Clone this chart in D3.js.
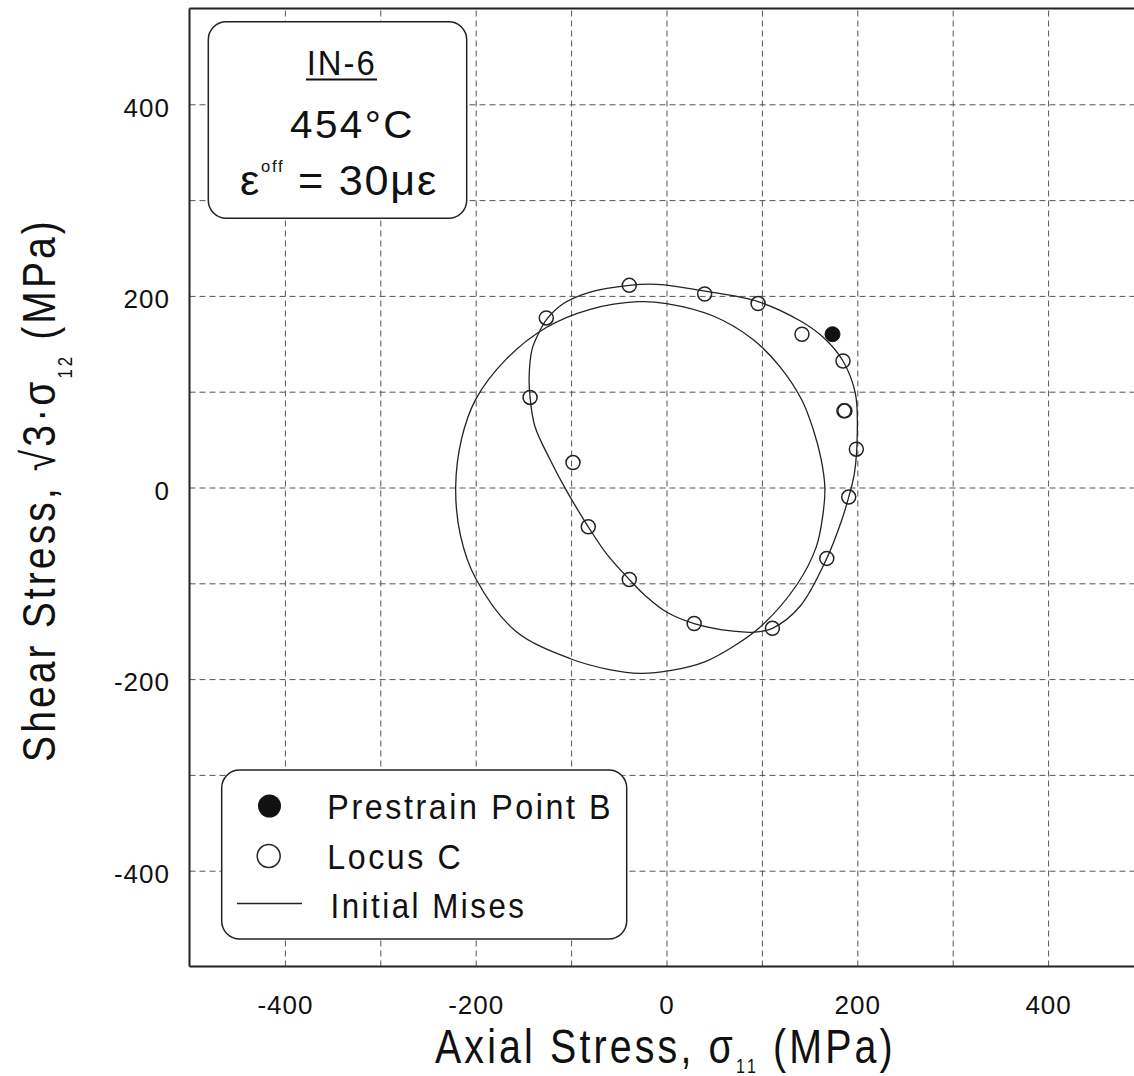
<!DOCTYPE html>
<html>
<head>
<meta charset="utf-8">
<script src="https://cdn.jsdelivr.net/npm/d3@7"></script>
<style>
  html, body { margin: 0; padding: 0; background: #fff; }
  svg { display: block; }
  text { font-family: "Liberation Sans", Arial, Helvetica, sans-serif; fill: #111; }
</style>
</head>
<body>
<svg id="chart" width="1134" height="1076"></svg>
<script>
// Locus C: measured yield points (axial stress, equivalent shear stress), MPa
const locusX = [-39, 40, 96, 142, 185, 186, 187, 199, 191, 168, 111, 29, -39, -82, -98, -143, -126];
const locusY = [211, 202, 192, 160, 132, 80, 80, 40, -10, -74, -147, -142, -96, -41, 26, 94, 177];

// Prestrain point B
const prestrainX = [174];
const prestrainY = [160];

// Fitted yield locus through the probe points (closed curve)
const fitX = [-39, -10, 40, 96, 140, 164, 185, 198, 200, 197, 191, 183, 168, 140, 111, 92, 70, 29, 0, -21, -39, -63, -82, -105, -122, -138, -143, -144, -141, -134, -126, -108, -80];
const fitY = [211, 212, 205, 194, 174, 157, 132, 98, 58, 15, -10, -36, -74, -124, -147, -151, -150, -142, -130, -114, -96, -69, -41, -3, 29, 64, 94, 115, 144, 161, 175, 192, 204];

// Initial von Mises surface
const misesX = [166, 162, 154, 142, 119, 90, 49, 0, -30, -80, -126, -168, -200, -215, -221, -216, -200, -158, -100, -60, -28, 5, 40, 70, 100, 137, 157, 164];
const misesY = [0, 30, 60, 91, 126, 155, 179, 192, 194, 186, 167, 134, 92, 50, 0, -50, -95, -150, -179, -190, -194, -191, -182, -166, -144, -101, -62, -28];

// Axis ticks
const gridTicks = [-400, -300, -200, -100, 0, 100, 200, 300, 400];
const xTickLabels = [-400, -200, 0, 200, 400];
const yTickLabels = [-400, -200, 0, 200, 400];

const svg = d3.select("#chart");
const plotLeft = 189.5, plotRight = 1143.5, plotTop = 8.5, plotBottom = 966.5;

const x = d3.scaleLinear().domain([-500, 500]).range([plotLeft, plotRight]);
const y = d3.scaleLinear().domain([-500, 500]).range([plotBottom, plotTop]);

// ---- dashed grid ----
const gx = svg.append("g")
  .attr("transform", `translate(0,${plotBottom})`)
  .call(d3.axisBottom(x).tickValues(gridTicks).tickSize(-(plotBottom - plotTop)).tickFormat(""));
gx.select(".domain").remove();
gx.selectAll("line").attr("stroke", "#555").attr("stroke-width", 1).attr("stroke-dasharray", "6,4");

const gy = svg.append("g")
  .attr("transform", `translate(${plotLeft},0)`)
  .call(d3.axisLeft(y).tickValues(gridTicks).tickSize(-(plotRight - plotLeft)).tickFormat(""));
gy.select(".domain").remove();
gy.selectAll("line").attr("stroke", "#555").attr("stroke-width", 1).attr("stroke-dasharray", "6,4");

// ---- tick labels (plain hyphen for negatives) ----
const plain = d => String(d);

const lx = svg.append("g")
  .attr("transform", `translate(0,${plotBottom})`)
  .call(d3.axisBottom(x).tickValues(xTickLabels).tickSize(0).tickFormat(plain));
lx.select(".domain").remove();
lx.attr("font-family", null).attr("font-size", null);
lx.selectAll("text")
  .attr("y", 47).attr("dy", 0)
  .attr("font-size", 26)
  .attr("letter-spacing", "1px")
  .attr("fill", "#111");

const ly = svg.append("g")
  .attr("transform", `translate(${plotLeft},0)`)
  .call(d3.axisLeft(y).tickValues(yTickLabels).tickSize(0).tickFormat(plain));
ly.select(".domain").remove();
ly.attr("font-family", null).attr("font-size", null);
ly.selectAll("text")
  .attr("x", -19.5).attr("dy", "0.45em")
  .attr("font-size", 26)
  .attr("letter-spacing", "1px")
  .attr("fill", "#111");

// ---- curves ----
const closed = d3.line().curve(d3.curveCatmullRomClosed.alpha(0.5));

svg.append("path")
  .attr("d", closed(misesX.map((v, i) => [x(v), y(misesY[i])])))
  .attr("fill", "none").attr("stroke", "#222").attr("stroke-width", 1.3);

svg.append("path")
  .attr("d", closed(fitX.map((v, i) => [x(v), y(fitY[i])])))
  .attr("fill", "none").attr("stroke", "#222").attr("stroke-width", 1.3);

// ---- markers ----
svg.append("g").selectAll("circle")
  .data(locusX.map((v, i) => ({ sx: v, sy: locusY[i] })))
  .join("circle")
  .attr("cx", d => x(d.sx)).attr("cy", d => y(d.sy)).attr("r", 7)
  .attr("fill", "none").attr("stroke", "#222").attr("stroke-width", 1.5);

svg.append("g").selectAll("circle")
  .data(prestrainX.map((v, i) => ({ sx: v, sy: prestrainY[i] })))
  .join("circle")
  .attr("cx", d => x(d.sx)).attr("cy", d => y(d.sy)).attr("r", 7.5)
  .attr("fill", "#111").attr("stroke", "#111").attr("stroke-width", 1);

// ---- frame ----
const frame = svg.append("g").attr("stroke", "#222").attr("stroke-width", 2).attr("fill", "none");
frame.append("line").attr("x1", plotLeft).attr("x2", plotRight).attr("y1", plotTop).attr("y2", plotTop);
frame.append("line").attr("x1", plotLeft).attr("x2", plotRight).attr("y1", plotBottom).attr("y2", plotBottom);
frame.append("line").attr("x1", plotLeft).attr("x2", plotLeft).attr("y1", plotTop).attr("y2", plotBottom);

// stretch a text element horizontally so it spans a given width from an anchor
function fitWidth(sel, target, ax) {
  const w = sel.node().getBBox().width;
  const k = target / w;
  sel.attr("transform", `translate(${ax},0) scale(${k},1) translate(${-ax},0)`);
}

// ---- axis titles ----
const xt = svg.append("text")
  .attr("x", 435).attr("y", 1063)
  .attr("font-size", 49).attr("letter-spacing", "0.08em");
xt.append("tspan").text("Axial Stress, σ");
xt.append("tspan").attr("font-size", 20).attr("dy", 10).text("11");
xt.append("tspan").attr("dy", -10).text(" (MPa)");
fitWidth(xt, 461, 435);

const ytG = svg.append("g").attr("transform", "translate(55,762) rotate(-90)");
const yt = ytG.append("text")
  .attr("x", 0).attr("y", 0)
  .attr("font-size", 47).attr("letter-spacing", "0.08em");
yt.append("tspan").text("Shear Stress, √3·σ");
yt.append("tspan").attr("font-size", 20).attr("dy", 17).text("12");
yt.append("tspan").attr("dy", -17).text("  (MPa)");
fitWidth(yt, 544, 0);

// ---- specimen info box ----
svg.append("rect")
  .attr("x", 208.3).attr("y", 21.7).attr("width", 258.4).attr("height", 196.6)
  .attr("rx", 18).attr("ry", 18)
  .attr("fill", "#fff").attr("stroke", "#222").attr("stroke-width", 1.5);

const t1 = svg.append("text").attr("x", 306.7).attr("y", 75)
  .attr("font-size", 35).attr("letter-spacing", "0.06em").text("IN-6");
fitWidth(t1, 70, 306.7);
svg.append("line").attr("x1", 306).attr("x2", 377).attr("y1", 79.5).attr("y2", 79.5)
  .attr("stroke", "#111").attr("stroke-width", 2);

const t2 = svg.append("text").attr("x", 290).attr("y", 138)
  .attr("font-size", 39).attr("letter-spacing", "0.06em").text("454°C");
fitWidth(t2, 125, 290);

const t3 = svg.append("text").attr("x", 240).attr("y", 195)
  .attr("font-size", 42).attr("letter-spacing", "0.04em");
t3.append("tspan").text("ε");
t3.append("tspan").attr("font-size", 16).attr("dy", -23).text("off");
t3.append("tspan").attr("dy", 23).text(" = 30με");
fitWidth(t3, 198, 240);

// ---- legend ----
svg.append("rect")
  .attr("x", 221.7).attr("y", 770).attr("width", 405).attr("height", 169)
  .attr("rx", 18).attr("ry", 18)
  .attr("fill", "#fff").attr("stroke", "#222").attr("stroke-width", 1.5);

svg.append("circle").attr("cx", 269.5).attr("cy", 806).attr("r", 11.5).attr("fill", "#111");
svg.append("circle").attr("cx", 268.7).attr("cy", 856).attr("r", 11.5)
  .attr("fill", "none").attr("stroke", "#222").attr("stroke-width", 1.5);
svg.append("line").attr("x1", 237).attr("x2", 302).attr("y1", 903.5).attr("y2", 903.5)
  .attr("stroke", "#222").attr("stroke-width", 1.3);

const legendItems = [
  { label: "Prestrain Point B", x0: 327.3, base: 819, w: 286 },
  { label: "Locus C", x0: 327.3, base: 869, w: 136 },
  { label: "Initial Mises", x0: 330.5, base: 918, w: 196 }
];
legendItems.forEach(it => {
  const t = svg.append("text").attr("x", it.x0).attr("y", it.base)
    .attr("font-size", 36).attr("letter-spacing", "0.08em").text(it.label);
  fitWidth(t, it.w, it.x0);
});
</script>
</body>
</html>
